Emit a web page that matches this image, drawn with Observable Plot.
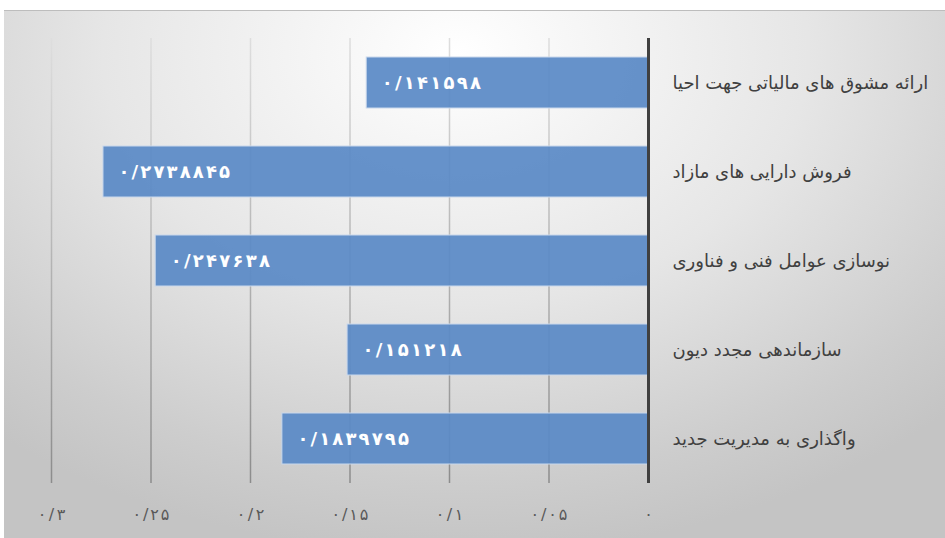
<!DOCTYPE html>
<html><head><meta charset="utf-8">
<script src="https://cdn.jsdelivr.net/npm/d3@7"></script>
<script src="https://cdn.jsdelivr.net/npm/@observablehq/plot@0.6"></script>
<style>
body{margin:0;background:#fff;}
#bg{position:absolute;left:4px;top:10px;width:941px;height:528px;background:radial-gradient(ellipse 75% 95% at 48% 8%, #ffffff 0%, #e6e6e6 50%, #cdcdcd 85%, #c4c4c4 100%);border-top:1px solid #bdbdbd;}
#chart{position:absolute;left:0;top:0;}
</style></head><body><div id="bg"></div><div id="chart"></div>
<script>
const categories = [
  "ارائه مشوق های مالیاتی جهت احیا",
  "فروش دارایی های مازاد",
  "نوسازی عوامل فنی و فناوری",
  "سازماندهی مجدد دیون",
  "واگذاری به مدیریت جدید"
];
const values = [0.141598, 0.2738845, 0.247638, 0.151218, 0.1839795];
const xTicks = [0, 0.05, 0.1, 0.15, 0.2, 0.25, 0.3];

const fa = s => String(s).replace(/\d/g, d => "۰۱۲۳۴۵۶۷۸۹"[d]).replace(".", "/");
const data = categories.map((c, i) => ({category: c, value: values[i], label: fa(values[i])}));

const plot = Plot.plot({
  width: 945, height: 538,
  marginLeft: 51, marginRight: 297, marginTop: 38, marginBottom: 55,
  style: {background: "transparent", fontFamily: "DejaVu Sans"},
  x: {domain: [0, 0.3], reverse: true, label: null},
  y: {domain: categories, paddingInner: 0.43, paddingOuter: 0.215, axis: null},
  marks: [
    Plot.ruleX(xTicks.filter(t => t > 0), {stroke: "url(#gridgrad)", strokeWidth: 1.5}),
    Plot.barX(data, {x: "value", y: "category", fill: "#5a8ac6", fillOpacity: 0.93, stroke: "#c9d8ec", strokeWidth: 1}),
    Plot.ruleX([0], {stroke: "#404040", strokeWidth: 3}),
    Plot.text(data, {x: "value", y: "category", text: "label", dx: 15, textAnchor: "start", fill: "white", fontWeight: "bold", fontSize: 18}),
    Plot.text(data, {x: 0, y: "category", text: "category", dx: 24, textAnchor: "start", fill: "#404040", fontSize: 18}),
    Plot.axisX({ticks: xTicks, tickFormat: fa, tickSize: 0, tickPadding: 25, fontSize: 16, color: "#595959", label: null})
  ]
});
const ns = "http://www.w3.org/2000/svg";
const defs = document.createElementNS(ns, "defs");
defs.innerHTML = '<linearGradient id="gridgrad" gradientUnits="userSpaceOnUse" x1="0" y1="38" x2="0" y2="483"><stop offset="0" stop-color="#dedede"/><stop offset="0.5" stop-color="#b4b4b4"/><stop offset="1" stop-color="#8c8c8c"/></linearGradient>';
plot.insertBefore(defs, plot.firstChild);
function spread(group, perChar) {
  if (!group) return;
  group.querySelectorAll("text").forEach(t => {
    const n = t.textContent.length;
    if (n > 1) {
      t.setAttribute("textLength", n * perChar);
      t.setAttribute("lengthAdjust", "spacing");
    }
  });
}
const textGroups = plot.querySelectorAll('g[aria-label="text"]');
spread(textGroups[0], 12.4);
spread(plot.querySelector('g[aria-label="x-axis tick label"]'), 9.2);
document.getElementById("chart").appendChild(plot);
</script>
</body></html>
